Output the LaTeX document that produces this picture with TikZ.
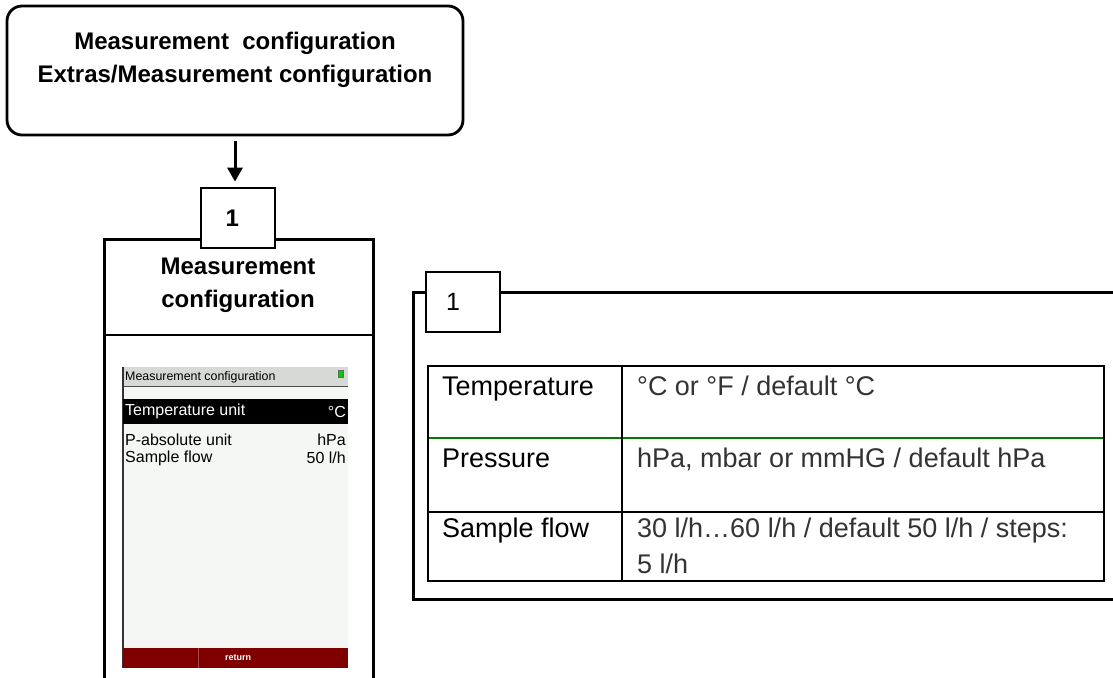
\documentclass[tikz,border=0pt]{standalone}
\usepackage{fontspec}
\setmainfont{Liberation Sans}
\usetikzlibrary{arrows.meta,positioning}
\definecolor{lcdbg}{HTML}{F4F7F4}
\definecolor{lcdbar}{HTML}{D6D9D6}
\definecolor{lcdred}{HTML}{800000}
\definecolor{rowgreen}{HTML}{007A00}

\begin{document}
\begin{tikzpicture}[x=1pt,y=-1pt,
    box/.style={draw, line width=2.8pt},
    numbox/.style={box, fill=white, minimum width=74pt, minimum height=60pt, inner sep=0pt},
    arrow/.style={-{Triangle[length=14pt,width=15pt]}, line width=3pt},
    hdr/.style={font=\bfseries\fontsize{24}{33}\selectfont, align=center, inner sep=0pt},
    cell/.style={anchor=base west, inner sep=0pt, font=\fontsize{27}{36}\selectfont},
    lcd/.style={inner sep=0pt, font=\fontsize{16}{18}\selectfont}
]
\useasboundingbox (0,0) rectangle (1113,677);
\clip (0,0) rectangle (1113,677);

\node[box, rounded corners=15pt, minimum width=456pt, minimum height=129pt] (menu) at (235,70.5) {};
\node[hdr, below=27pt of menu.north] (menutxt) {Measurement\ \ configuration\\Extras/Measurement configuration};

\node[box, anchor=north west, minimum width=269pt, minimum height=450pt] (lpanel) at (103,238) {};
\node[hdr] (ltitle) at (238,285) {Measurement\\configuration};
\draw[line width=2.8pt] ([yshift=-97pt]lpanel.north west) -- ([yshift=-97pt]lpanel.north east);
\node[numbox, font=\bfseries\fontsize{24}{28}\selectfont, text width=25pt, align=left] (lnum) at (238,218) {1};
\draw[arrow, shorten <=5pt, shorten >=5pt] (menu.south) -- (menu.south |- lnum.north);

% display
\fill[lcdbg] (123,367) rectangle (348,668);
\fill[lcdbar] (123,367) rectangle (348,386);
\draw[black!70, line width=1pt] (123,386.5) -- (348,386.5);
\draw[black!80, line width=1.5pt] (123,367) -- (123,668);
\draw[fill=green!80!black, draw=black!60, line width=0.5pt] (338,370) rectangle (343,377);
\node[lcd, anchor=west, font=\fontsize{12.4}{13}\selectfont] (lcdtitle) at (125,377) {Measurement configuration};
\fill[black] (123,399) rectangle (348,424);
\node[lcd, anchor=west, text=white] (lcdtemp) at (125,411.5) {Temperature unit};
\node[lcd, anchor=east, text=white] (lcdtempv) at (346,411.5) {°C};
\node[lcd, anchor=west] (lcdpres) at (125,440) {P-absolute unit};
\node[lcd, anchor=east] (lcdpresv) at (346,440) {hPa};
\node[lcd, anchor=west] (lcdflow) at (125,458) {Sample flow};
\node[lcd, anchor=east] (lcdflowv) at (346,458) {50 l/h};
\fill[lcdred] (123,648) rectangle (348,668);
\draw[lcdred!70!white, line width=0.6pt] (198,648) -- (198,668);
\node[lcd, text=white, font=\bfseries\fontsize{9}{10}\selectfont] (lcdret) at (238,658) {return};

\node[box, anchor=north west, minimum width=760pt, minimum height=307pt] (rframe) at (412,291) {};
\node[numbox, font=\fontsize{25}{28}\selectfont, text width=34pt, align=left] (rnum) at (463,302) {1};

% table
\draw[rowgreen, line width=2pt] (428,438) -- (1104,438);
\draw[line width=2pt] (428,366) rectangle (1104,581);
\draw[line width=2pt] (622,366) -- (622,581);
\draw[line width=2pt] (428,512) -- (1104,512);
\node[cell] (tkey1) at (442,395) {Temperature};
\node[cell, text=black!80] (tval1) at (637,395) {°C or °F / default °C};
\node[cell] (tkey2) at (442,467) {Pressure};
\node[cell, text=black!80] (tval2) at (637,467) {hPa, mbar or mmHG / default hPa};
\node[cell] (tkey3) at (442,537) {Sample flow};
\node[cell, text=black!80, align=left] (tval3) at (637,573) {30 l/h…60 l/h / default 50 l/h / steps:\\5 l/h};
\end{tikzpicture}
\end{document}
